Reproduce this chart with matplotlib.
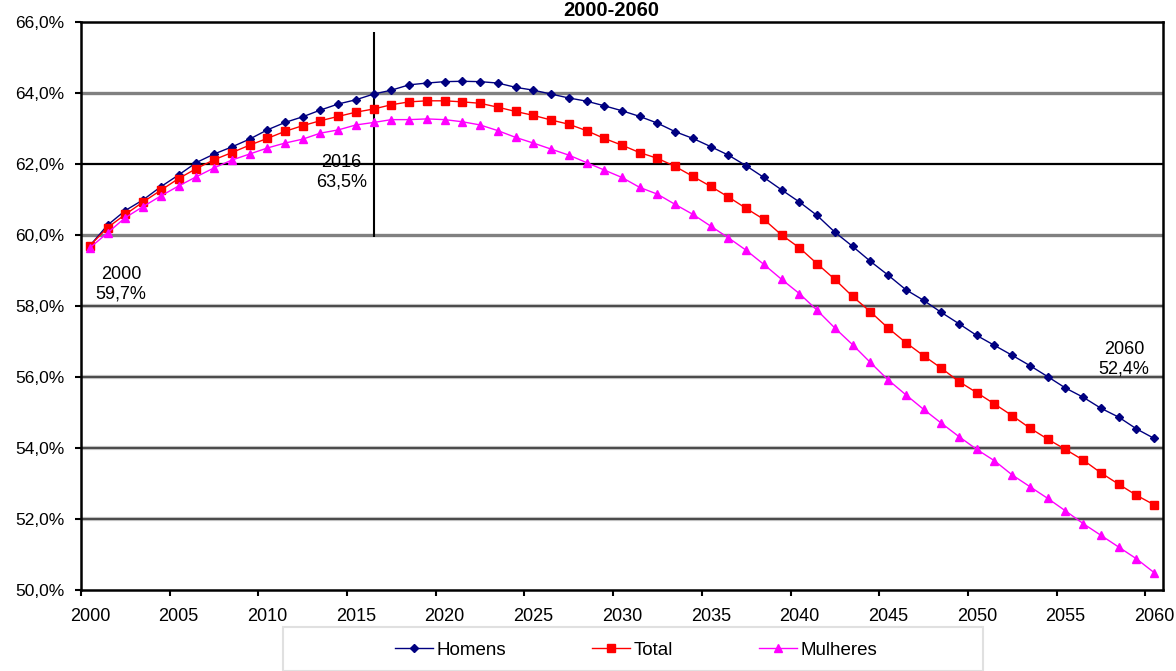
import matplotlib.pyplot as plt
from matplotlib.patches import Rectangle

plt.rcParams["font.family"] = ["Liberation Sans", "DejaVu Sans"]

years = list(range(2000, 2061))

homens = [59.70, 60.28, 60.69, 60.99, 61.36, 61.69, 62.04, 62.28, 62.48, 62.70,
          62.96, 63.17, 63.33, 63.52, 63.69, 63.81, 63.97, 64.08, 64.23, 64.28,
          64.32, 64.33, 64.32, 64.28, 64.16, 64.08, 63.97, 63.86, 63.77, 63.64,
          63.50, 63.34, 63.15, 62.91, 62.72, 62.49, 62.25, 61.95, 61.62, 61.27,
          60.93, 60.55, 60.08, 59.68, 59.26, 58.87, 58.46, 58.16, 57.82, 57.50,
          57.17, 56.89, 56.61, 56.32, 56.01, 55.69, 55.43, 55.12, 54.87, 54.54,
          54.27]

total = [59.70, 60.21, 60.58, 60.93, 61.26, 61.59, 61.87, 62.12, 62.32, 62.53,
         62.72, 62.92, 63.08, 63.22, 63.34, 63.46, 63.55, 63.67, 63.75, 63.78,
         63.78, 63.75, 63.71, 63.60, 63.48, 63.37, 63.24, 63.12, 62.94, 62.72,
         62.53, 62.32, 62.16, 61.93, 61.65, 61.37, 61.07, 60.75, 60.44, 60.00,
         59.64, 59.19, 58.75, 58.27, 57.84, 57.38, 56.97, 56.60, 56.25, 55.87,
         55.56, 55.24, 54.91, 54.56, 54.25, 53.96, 53.66, 53.30, 52.98, 52.67,
         52.40]

mulheres = [59.64, 60.06, 60.49, 60.80, 61.10, 61.38, 61.64, 61.89, 62.11, 62.28,
            62.45, 62.59, 62.70, 62.87, 62.96, 63.10, 63.17, 63.25, 63.25, 63.27,
            63.25, 63.19, 63.10, 62.94, 62.75, 62.59, 62.42, 62.25, 62.04, 61.83,
            61.62, 61.34, 61.15, 60.86, 60.58, 60.25, 59.92, 59.57, 59.17, 58.75,
            58.35, 57.88, 57.38, 56.91, 56.41, 55.92, 55.50, 55.09, 54.70, 54.32,
            53.96, 53.64, 53.24, 52.91, 52.58, 52.23, 51.87, 51.54, 51.21, 50.88,
            50.49]

series = [
    ("Homens", homens, "#000080", "D", 4.5),
    ("Total", total, "#FF0000", "s", 5.5),
    ("Mulheres", mulheres, "#FF00FF", "^", 6),
]

y_ticks = [50, 52, 54, 56, 58, 60, 62, 64, 66]
label_years = list(range(2000, 2061, 5))

fig = plt.figure(figsize=(11.76, 6.71), dpi=100)
ax = fig.add_axes([81 / 1176, 1 - 590 / 671, (1163 - 81) / 1176, (590 - 22) / 671])

x = list(range(len(years)))

# Excel-ish gridlines
for v in [58, 56, 54, 52]:
    ax.axhline(v, color="#c0c0c0", lw=3.0, zorder=1)
    ax.axhline(v, color="#404040", lw=1.3, zorder=1)
for v in [64, 60]:
    ax.axhline(v, color="#808080", lw=2.4, zorder=1)
ax.axhline(62, color="black", lw=1.6, zorder=1)

for name, vals, color, marker, ms in series:
    ax.plot(x, vals, color=color, lw=1.0, marker=marker, markersize=ms,
            markeredgecolor=color, label=name, zorder=3)

# 2016 marker line
i2016 = years.index(2016)
ax.vlines(i2016, 59.94, 65.72, color="black", lw=1.5, zorder=2)

ax.set_xlim(-0.5, len(years) - 0.5)
ax.set_ylim(50, 66)

ax.set_yticks(y_ticks)
ax.set_yticklabels([f"{v:.1f}%".replace(".", ",") for v in y_ticks])
ax.tick_params(axis="y", direction="out", length=4, width=1.5, pad=8, labelsize=12.5)

ax.set_xticks([years.index(y) for y in label_years])
ax.set_xticklabels([str(y) for y in label_years])
ax.set_xticks([years.index(y) - 0.5 for y in label_years], minor=True)
ax.tick_params(axis="x", which="major", length=0, pad=13, labelsize=13)
ax.tick_params(axis="x", which="minor", direction="out", length=4, width=1.5)

for s in ax.spines.values():
    s.set_linewidth(1.8)
    s.set_color("black")

# annotations
ax.text(1.75, 58.62, "2000\n59,7%", ha="center", va="center", fontsize=13)
ax.text(14.2, 61.77, "2016\n63,5%", ha="center", va="center", fontsize=13)
ax.text(58.3, 56.51, "2060\n52,4%", ha="center", va="center", fontsize=13)

fig.text(611 / 1176, 1 - 16 / 671, "2000-2060", ha="center", va="baseline",
         fontsize=14.5, fontweight="bold")

# legend box
fig.patches.append(Rectangle((283 / 1176, 0), (983 - 283) / 1176, (671 - 627) / 671,
                             transform=fig.transFigure, facecolor="white",
                             edgecolor="#e0e0e0", lw=1.5))
fig.legend(loc="center", bbox_to_anchor=(636 / 1176, 1 - 650 / 671), ncol=3,
           frameon=False, fontsize=13.5, handlelength=2.0, handletextpad=0.2,
           columnspacing=4.6)

fig.savefig("out.png", dpi=100)
